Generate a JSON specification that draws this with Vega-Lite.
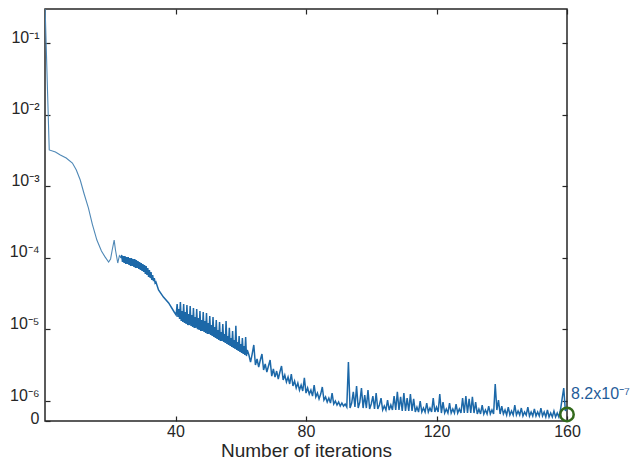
{
  "$schema": "https://vega.github.io/schema/vega-lite/v6.json",
  "width": 522,
  "height": 412,
  "autosize": "none",
  "padding": {"left": 45, "top": 9, "right": 71, "bottom": 39},
  "background": "white",
  "config": {
    "view": {"stroke": "#262626", "strokeWidth": 1.5},
    "axis": {"labelFont": "Liberation Sans", "titleFont": "Liberation Sans", "tickColor": "#262626", "labelColor": "#262626", "titleColor": "#262626", "grid": false, "domain": false, "tickWidth": 1.2}
  },
  "resolve": {"axis": {"x": "independent", "y": "independent"}},
  "data": {"values": [
    {"iteration":0,"error":0.35},{"iteration":1.3,"error":3.21e-3},{"iteration":3.2,"error":3.01e-3},{"iteration":4.7,"error":2.73e-3},{"iteration":6.5,"error":2.48e-3},{"iteration":8.4,"error":2.11e-3},{"iteration":9.6,"error":1.68e-3},{"iteration":10.8,"error":1.22e-3},{"iteration":12.0,"error":7.78e-4},{"iteration":13.3,"error":4.97e-4},{"iteration":14.5,"error":2.96e-4},{"iteration":15.9,"error":1.77e-4},{"iteration":17.3,"error":1.245e-4},{"iteration":18.4,"error":1.03e-4},{"iteration":19.5,"error":8.74e-5},{"iteration":20.1,"error":9.65e-5},{"iteration":20.6,"error":1.285e-4},{"iteration":21.2,"error":1.77e-4},{"iteration":21.6,"error":1.285e-4},{"iteration":22.3,"error":8.46e-5},{"iteration":22.8,"error":1.07e-4},{"iteration":23.3,"error":1.0e-4},
    {"iteration":23.5,"error":1.094e-4},{"iteration":23.75,"error":8.74e-5},{"iteration":24,"error":1.06e-4},{"iteration":24.25,"error":8.46e-5},{"iteration":24.5,"error":1.06e-4},{"iteration":24.75,"error":8.19e-5},{"iteration":25,"error":1.026e-4},{"iteration":25.25,"error":8.19e-5},{"iteration":25.5,"error":1.026e-4},{"iteration":25.75,"error":7.93e-5},{"iteration":26,"error":9.94e-5},{"iteration":26.25,"error":7.68e-5},{"iteration":26.5,"error":9.94e-5},{"iteration":26.75,"error":7.68e-5},{"iteration":27,"error":9.62e-5},{"iteration":27.25,"error":7.44e-5},{"iteration":27.5,"error":9.62e-5},{"iteration":27.75,"error":7.20e-5},{"iteration":28,"error":9.32e-5},{"iteration":28.25,"error":7.20e-5},{"iteration":28.5,"error":9.02e-5},{"iteration":28.75,"error":6.98e-5},{"iteration":29,"error":8.74e-5},{"iteration":29.25,"error":6.75e-5},{"iteration":29.5,"error":8.46e-5},{"iteration":29.75,"error":6.54e-5},{"iteration":30,"error":8.19e-5},{"iteration":30.25,"error":6.33e-5},{"iteration":30.5,"error":7.93e-5},{"iteration":30.75,"error":5.94e-5},{"iteration":31,"error":7.68e-5},{"iteration":31.25,"error":5.75e-5},{"iteration":31.5,"error":7.20e-5},{"iteration":31.75,"error":5.39e-5},{"iteration":32,"error":6.75e-5},{"iteration":32.25,"error":5.22e-5},{"iteration":32.5,"error":6.33e-5},{"iteration":32.75,"error":4.90e-5},{"iteration":33,"error":5.75e-5},{"iteration":33.25,"error":4.74e-5},{"iteration":33.5,"error":5.22e-5},{"iteration":33.75,"error":4.45e-5},{"iteration":34,"error":4.59e-5},
    {"iteration":34.8,"error":3.55e-5},{"iteration":36.3,"error":2.83e-5},{"iteration":37.9,"error":2.34e-5},{"iteration":39.6,"error":1.75e-5},{"iteration":40.2,"error":1.59e-5},
    {"iteration":40.5,"error":2.26e-5},{"iteration":40.75,"error":1.49e-5},{"iteration":41,"error":1.93e-5},{"iteration":41.25,"error":1.40e-5},{"iteration":41.5,"error":2.41e-5},{"iteration":41.75,"error":1.31e-5},{"iteration":42,"error":1.81e-5},{"iteration":42.25,"error":1.27e-5},{"iteration":42.5,"error":2.26e-5},{"iteration":42.75,"error":1.23e-5},{"iteration":43,"error":1.75e-5},{"iteration":43.25,"error":1.19e-5},{"iteration":43.5,"error":2.19e-5},{"iteration":43.75,"error":1.15e-5},{"iteration":44,"error":1.64e-5},{"iteration":44.25,"error":1.15e-5},{"iteration":44.5,"error":2.12e-5},{"iteration":44.75,"error":1.12e-5},{"iteration":45,"error":1.59e-5},{"iteration":45.25,"error":1.08e-5},{"iteration":45.5,"error":1.99e-5},{"iteration":45.75,"error":1.05e-5},{"iteration":46,"error":1.49e-5},{"iteration":46.25,"error":1.05e-5},{"iteration":46.5,"error":1.93e-5},{"iteration":46.75,"error":1.01e-5},{"iteration":47,"error":1.44e-5},{"iteration":47.25,"error":9.81e-6},{"iteration":47.5,"error":1.81e-5},{"iteration":47.75,"error":9.50e-6},{"iteration":48,"error":1.35e-5},{"iteration":48.25,"error":9.50e-6},{"iteration":48.5,"error":1.75e-5},{"iteration":48.75,"error":9.20e-6},{"iteration":49,"error":1.31e-5},{"iteration":49.25,"error":8.91e-6},{"iteration":49.5,"error":1.69e-5},{"iteration":49.75,"error":8.63e-6},{"iteration":50,"error":1.23e-5},{"iteration":50.25,"error":8.63e-6},{"iteration":50.5,"error":1.54e-5},{"iteration":50.75,"error":8.35e-6},{"iteration":51,"error":1.15e-5},{"iteration":51.25,"error":8.09e-6},{"iteration":51.5,"error":1.49e-5},{"iteration":51.75,"error":7.83e-6},{"iteration":52,"error":1.08e-5},{"iteration":52.25,"error":7.58e-6},{"iteration":52.5,"error":1.35e-5},{"iteration":52.75,"error":7.34e-6},{"iteration":53,"error":9.81e-6},{"iteration":53.25,"error":7.11e-6},{"iteration":53.5,"error":1.27e-5},{"iteration":53.75,"error":6.89e-6},{"iteration":54,"error":9.20e-6},{"iteration":54.25,"error":6.89e-6},{"iteration":54.5,"error":1.19e-5},{"iteration":54.75,"error":6.67e-6},{"iteration":55,"error":8.63e-6},{"iteration":55.25,"error":6.46e-6},{"iteration":55.5,"error":1.31e-5},{"iteration":55.75,"error":6.25e-6},{"iteration":56,"error":8.09e-6},{"iteration":56.25,"error":6.06e-6},{"iteration":56.5,"error":1.05e-5},{"iteration":56.75,"error":5.86e-6},{"iteration":57,"error":7.58e-6},{"iteration":57.25,"error":5.68e-6},{"iteration":57.5,"error":9.50e-6},{"iteration":57.75,"error":5.50e-6},{"iteration":58,"error":7.11e-6},{"iteration":58.25,"error":5.32e-6},{"iteration":58.5,"error":1.12e-5},{"iteration":58.75,"error":5.16e-6},{"iteration":59,"error":6.67e-6},{"iteration":59.25,"error":4.99e-6},{"iteration":59.5,"error":8.09e-6},{"iteration":59.75,"error":4.83e-6},{"iteration":60,"error":6.25e-6},{"iteration":60.25,"error":4.68e-6},{"iteration":60.5,"error":7.58e-6},{"iteration":60.75,"error":4.53e-6},{"iteration":61,"error":5.86e-6},{"iteration":61.25,"error":4.39e-6},{"iteration":61.5,"error":7.83e-6},{"iteration":61.75,"error":4.25e-6},{"iteration":62,"error":5.16e-6},
    {"iteration":62.5,"error":4.39e-6},{"iteration":63,"error":3.50e-6},{"iteration":63.5,"error":4.53e-6},{"iteration":64,"error":6.06e-6},{"iteration":64.5,"error":3.18e-6},{"iteration":65,"error":3.86e-6},{"iteration":65.5,"error":2.98e-6},{"iteration":66,"error":3.74e-6},{"iteration":66.5,"error":4.53e-6},{"iteration":67,"error":2.71e-6},{"iteration":67.5,"error":3.29e-6},{"iteration":68,"error":2.54e-6},{"iteration":68.5,"error":3.08e-6},{"iteration":69,"error":3.74e-6},{"iteration":69.5,"error":2.23e-6},{"iteration":70,"error":2.80e-6},{"iteration":70.5,"error":2.16e-6},{"iteration":71,"error":2.62e-6},{"iteration":71.5,"error":2.03e-6},{"iteration":72,"error":2.54e-6},{"iteration":72.5,"error":3.08e-6},{"iteration":73,"error":1.97e-6},{"iteration":73.5,"error":2.31e-6},{"iteration":74,"error":1.84e-6},{"iteration":74.5,"error":2.16e-6},{"iteration":75,"error":1.73e-6},{"iteration":75.5,"error":2.38e-6},{"iteration":76,"error":1.62e-6},{"iteration":76.5,"error":1.90e-6},{"iteration":77,"error":1.52e-6},{"iteration":77.5,"error":1.78e-6},{"iteration":78,"error":1.42e-6},{"iteration":78.5,"error":1.67e-6},{"iteration":79,"error":1.38e-6},{"iteration":79.5,"error":2.10e-6},{"iteration":80,"error":1.29e-6},{"iteration":80.5,"error":1.52e-6},{"iteration":81,"error":1.25e-6},{"iteration":81.5,"error":1.42e-6},{"iteration":82,"error":1.17e-6},{"iteration":82.5,"error":1.67e-6},{"iteration":83,"error":1.14e-6},{"iteration":83.5,"error":1.29e-6},{"iteration":84,"error":1.07e-6},{"iteration":84.5,"error":1.25e-6},{"iteration":85,"error":1.57e-6},{"iteration":85.5,"error":1.03e-6},{"iteration":86,"error":1.14e-6},{"iteration":86.5,"error":9.68e-7},{"iteration":87,"error":1.10e-6},{"iteration":87.5,"error":9.38e-7},{"iteration":88,"error":1.29e-6},{"iteration":88.5,"error":9.08e-7},{"iteration":89,"error":1.00e-6},{"iteration":89.5,"error":8.79e-7},{"iteration":90,"error":9.68e-7},{"iteration":90.5,"error":8.51e-7},{"iteration":91,"error":9.38e-7},{"iteration":91.5,"error":8.51e-7},{"iteration":92,"error":9.08e-7},
    {"iteration":92.5,"error":8.24e-7},{"iteration":93,"error":3.50e-6},{"iteration":93.5,"error":7.98e-7},{"iteration":94,"error":9.38e-7},{"iteration":94.5,"error":1.34e-6},{"iteration":95,"error":8.24e-7},{"iteration":95.5,"error":1.62e-6},{"iteration":96,"error":7.98e-7},{"iteration":96.5,"error":9.68e-7},{"iteration":97,"error":1.52e-6},{"iteration":97.5,"error":7.98e-7},{"iteration":98,"error":1.21e-6},{"iteration":98.5,"error":7.98e-7},{"iteration":99,"error":1.42e-6},{"iteration":99.5,"error":7.73e-7},{"iteration":100,"error":9.08e-7},{"iteration":100.5,"error":1.17e-6},{"iteration":101,"error":7.73e-7},{"iteration":101.5,"error":1.29e-6},{"iteration":102,"error":7.73e-7},{"iteration":102.5,"error":8.79e-7},{"iteration":103,"error":1.10e-6},{"iteration":103.5,"error":7.49e-7},{"iteration":104,"error":8.51e-7},{"iteration":104.5,"error":7.49e-7},{"iteration":105,"error":1.03e-6},{"iteration":105.5,"error":7.49e-7},{"iteration":106,"error":8.79e-7},{"iteration":106.5,"error":7.49e-7},{"iteration":107,"error":1.17e-6},{"iteration":107.5,"error":7.49e-7},{"iteration":108,"error":1.34e-6},{"iteration":108.5,"error":7.49e-7},{"iteration":109,"error":1.14e-6},{"iteration":109.5,"error":7.25e-7},{"iteration":110,"error":1.29e-6},{"iteration":110.5,"error":7.25e-7},{"iteration":111,"error":1.10e-6},{"iteration":111.5,"error":7.25e-7},{"iteration":112,"error":1.25e-6},{"iteration":112.5,"error":7.25e-7},{"iteration":113,"error":1.07e-6},{"iteration":113.5,"error":7.02e-7},{"iteration":114,"error":8.24e-7},{"iteration":114.5,"error":7.02e-7},{"iteration":115,"error":1.00e-6},{"iteration":115.5,"error":7.02e-7},{"iteration":116,"error":7.98e-7},{"iteration":116.5,"error":7.02e-7},{"iteration":117,"error":9.38e-7},{"iteration":117.5,"error":7.02e-7},{"iteration":118,"error":7.98e-7},{"iteration":118.5,"error":7.02e-7},{"iteration":119,"error":1.10e-6},{"iteration":119.5,"error":7.02e-7},{"iteration":120,"error":8.24e-7},{"iteration":120.5,"error":7.02e-7},{"iteration":121,"error":1.25e-6},{"iteration":121.5,"error":6.80e-7},{"iteration":122,"error":9.68e-7},{"iteration":122.5,"error":6.80e-7},{"iteration":123,"error":7.73e-7},{"iteration":123.5,"error":6.80e-7},{"iteration":124,"error":9.38e-7},{"iteration":124.5,"error":6.80e-7},{"iteration":125,"error":7.73e-7},{"iteration":125.5,"error":6.80e-7},{"iteration":126,"error":9.08e-7},{"iteration":126.5,"error":6.80e-7},{"iteration":127,"error":7.73e-7},{"iteration":127.5,"error":6.80e-7},{"iteration":128,"error":1.10e-6},{"iteration":128.5,"error":6.80e-7},{"iteration":129,"error":1.17e-6},{"iteration":129.5,"error":6.80e-7},{"iteration":130,"error":1.07e-6},{"iteration":130.5,"error":6.80e-7},{"iteration":131,"error":1.14e-6},{"iteration":131.5,"error":6.80e-7},{"iteration":132,"error":9.68e-7},{"iteration":132.5,"error":6.59e-7},{"iteration":133,"error":7.73e-7},{"iteration":133.5,"error":6.59e-7},{"iteration":134,"error":8.79e-7},{"iteration":134.5,"error":6.59e-7},{"iteration":135,"error":7.49e-7},{"iteration":135.5,"error":6.59e-7},{"iteration":136,"error":8.51e-7},{"iteration":136.5,"error":6.59e-7},{"iteration":137,"error":7.49e-7},{"iteration":137.5,"error":6.59e-7},{"iteration":138,"error":1.73e-6},{"iteration":138.5,"error":7.49e-7},{"iteration":139,"error":1.03e-6},{"iteration":139.5,"error":6.59e-7},{"iteration":140,"error":8.51e-7},{"iteration":140.5,"error":6.59e-7},{"iteration":141,"error":7.49e-7},{"iteration":141.5,"error":6.38e-7},{"iteration":142,"error":8.24e-7},{"iteration":142.5,"error":6.38e-7},{"iteration":143,"error":7.25e-7},{"iteration":143.5,"error":6.38e-7},{"iteration":144,"error":8.79e-7},{"iteration":144.5,"error":6.38e-7},{"iteration":145,"error":7.25e-7},{"iteration":145.5,"error":6.38e-7},{"iteration":146,"error":7.98e-7},{"iteration":146.5,"error":6.18e-7},{"iteration":147,"error":7.02e-7},{"iteration":147.5,"error":6.38e-7},{"iteration":148,"error":8.24e-7},{"iteration":148.5,"error":6.18e-7},{"iteration":149,"error":7.02e-7},{"iteration":149.5,"error":6.18e-7},{"iteration":150,"error":7.73e-7},{"iteration":150.5,"error":6.18e-7},{"iteration":151,"error":7.02e-7},{"iteration":151.5,"error":6.18e-7},{"iteration":152,"error":7.98e-7},{"iteration":152.5,"error":6.18e-7},{"iteration":153,"error":7.02e-7},{"iteration":153.5,"error":5.98e-7},{"iteration":154,"error":7.49e-7},{"iteration":154.5,"error":5.98e-7},{"iteration":155,"error":6.80e-7},{"iteration":155.5,"error":5.98e-7},{"iteration":156,"error":7.25e-7},{"iteration":156.5,"error":5.98e-7},{"iteration":157,"error":6.80e-7},{"iteration":157.5,"error":5.98e-7},{"iteration":158,"error":7.49e-7},{"iteration":158.5,"error":1.07e-6},{"iteration":159,"error":1.52e-6},{"iteration":159.5,"error":7.25e-7},{"iteration":160,"error":8.24e-7}
  ]},
  "layer": [
    {
      "transform": [{"filter": "datum.iteration <= 23.5"}],
      "mark": {"type": "line", "color": "#4f88b6", "strokeWidth": 1.1, "clip": true},
      "encoding": {
        "x": {"field": "iteration", "type": "quantitative", "scale": {"domain": [0, 160], "nice": false, "zero": false},
              "axis": {"orient": "bottom", "values": [40, 80, 120, 160], "tickSize": -5, "labelPadding": 7, "labelFlush": false, "labelFontSize": 16, "title": "Number of iterations", "titleFontSize": 19, "titleFontWeight": "normal", "titlePadding": 2}},
        "y": {"field": "error", "type": "quantitative", "scale": {"type": "log", "domain": [5.26e-7, 0.2985], "nice": false},
              "axis": {"orient": "left", "values": [5.26e-7, 1e-6, 1e-5, 1e-4, 1e-3, 1e-2, 1e-1], "tickSize": -5, "labelPadding": 11, "labelFontSize": 16, "title": null,
                       "labelOffset": {"condition": {"test": "datum.value < 6e-7", "value": -3}, "value": -6},
                       "labelExpr": "datum.value < 6e-7 ? '0' : datum.value > 0.05 ? '10⁻¹' : datum.value > 0.005 ? '10⁻²' : datum.value > 0.0005 ? '10⁻³' : datum.value > 0.00005 ? '10⁻⁴' : datum.value > 0.000005 ? '10⁻⁵' : '10⁻⁶'"}}
      }
    },
    {
      "transform": [{"filter": "datum.iteration >= 23.3"}],
      "mark": {"type": "line", "color": "#1c68a8", "strokeWidth": 1.5, "clip": true},
      "encoding": {
        "x": {"field": "iteration", "type": "quantitative", "scale": {"domain": [0, 160], "nice": false, "zero": false}, "axis": null},
        "y": {"field": "error", "type": "quantitative", "scale": {"type": "log", "domain": [5.26e-7, 0.2985], "nice": false}, "axis": null}
      }
    },
    {
      "data": {"values": [{"iteration": 160, "error": 6.5e-7}]},
      "mark": {"type": "point", "shape": "circle", "size": 180, "filled": false, "stroke": "#336a1c", "strokeWidth": 2.5, "opacity": 1},
      "encoding": {
        "x": {"field": "iteration", "type": "quantitative", "axis": {"orient": "top", "values": [40, 80, 120, 160], "tickSize": -5, "labels": false, "title": null}},
        "y": {"field": "error", "type": "quantitative", "axis": {"orient": "right", "values": [1e-6, 1e-5, 1e-4, 1e-3, 1e-2, 1e-1], "tickSize": -5, "labels": false, "title": null}}
      }
    },
    {
      "data": {"values": [{"iteration": 160, "error": 1.07e-6, "label": "8.2x10⁻⁷"}]},
      "mark": {"type": "text", "align": "left", "baseline": "alphabetic", "dx": 4, "fontSize": 16, "font": "Liberation Sans", "color": "#1f5c99"},
      "encoding": {
        "x": {"field": "iteration", "type": "quantitative", "axis": null},
        "y": {"field": "error", "type": "quantitative", "axis": null},
        "text": {"field": "label"}
      }
    }
  ]
}
